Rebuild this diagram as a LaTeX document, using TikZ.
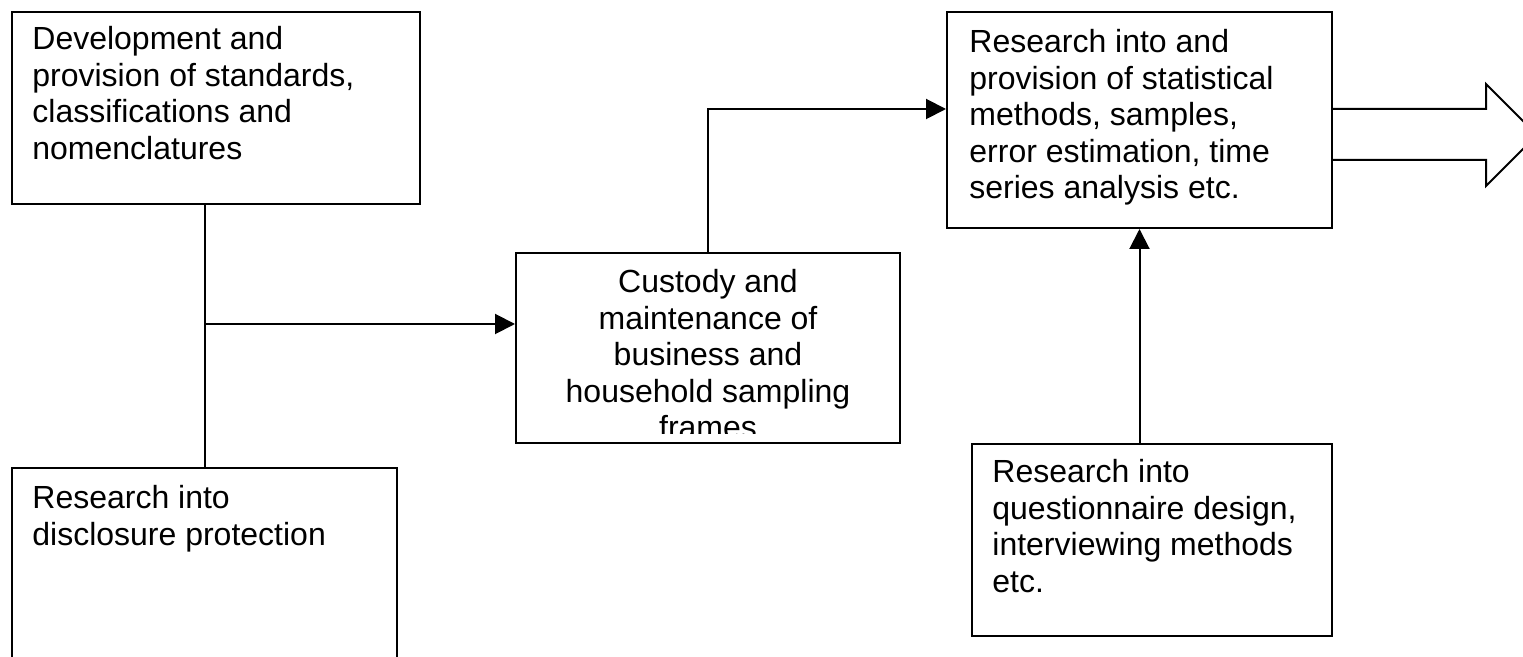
\documentclass[tikz,border=0pt]{standalone}
\usepackage{fontspec}
\setmainfont{Liberation Sans}
\usetikzlibrary{arrows.meta,fit}
\begin{document}
\begin{tikzpicture}[x=0.5pt,y=-0.5pt,
  box/.style={draw, line width=1pt, inner sep=0pt},
  txt/.style={inner sep=0pt, anchor=base west, font=\fontsize{16pt}{18.25pt}\selectfont},
  ctxt/.style={inner sep=0pt, anchor=base, font=\fontsize{16pt}{18.25pt}\selectfont},
  link/.style={line width=1pt, -{Triangle[length=10pt,width=10pt]}},
  plain/.style={line width=1pt}]
\useasboundingbox (0,0) rectangle (1523,657);
\clip (0,0) rectangle (1523,657);

% boxes
\node[box, fit={(12,12) (420,204)}] (dev) {};
\node[box, fit={(12,468) (397,720)}] (disc) {};
\node[box, fit={(516,253) (900,443)}] (cust) {};
\node[box, fit={(947,12) (1332,228)}] (stat) {};
\node[box, fit={(972,444) (1332,636)}] (quest) {};

% box texts
\node[txt] (devtext) at (32,50) {\parbox[t]{200pt}{\raggedright Development and\\ provision of standards,\\ classifications and\\ nomenclatures}};
\node[txt] (disctext) at (32,509) {\parbox[t]{190pt}{\raggedright Research into\\ disclosure protection}};
\begin{scope}
  \clip (516,253) rectangle (900,434);
  \node[ctxt] (custtext) at (708,293) {\parbox[t]{190pt}{\centering Custody and\\ maintenance of\\ business and\\ household sampling\\ frames}};
\end{scope}
\node[txt] (stattext) at (969,53) {\parbox[t]{190pt}{\raggedright Research into and\\ provision of statistical\\ methods, samples,\\ error estimation, time\\ series analysis etc.}};
\node[txt] (questtext) at (992,483) {\parbox[t]{180pt}{\raggedright Research into\\ questionnaire design,\\ interviewing methods\\ etc.}};

% connectors
\coordinate (split) at (204,324);
\coordinate (statin) at (0,109);
\draw[plain] (disc.north) -- (disc.north |- dev.south);
\draw[link] (split) -- (split -| cust.west);
\draw[link] (cust.north) |- (stat.west |- statin);
\draw[link] (stat.south |- quest.north) -- (stat.south);

% outgoing block arrow
\coordinate (arrtop) at (0,109);
\coordinate (arrbot) at (0,160);
\draw[plain, line join=miter] (stat.east |- arrtop) -- (1486,109) -- (1486,84) -- (1537,135)
  -- (1486,186) -- (1486,160) -- (stat.east |- arrbot);
\end{tikzpicture}
\end{document}
